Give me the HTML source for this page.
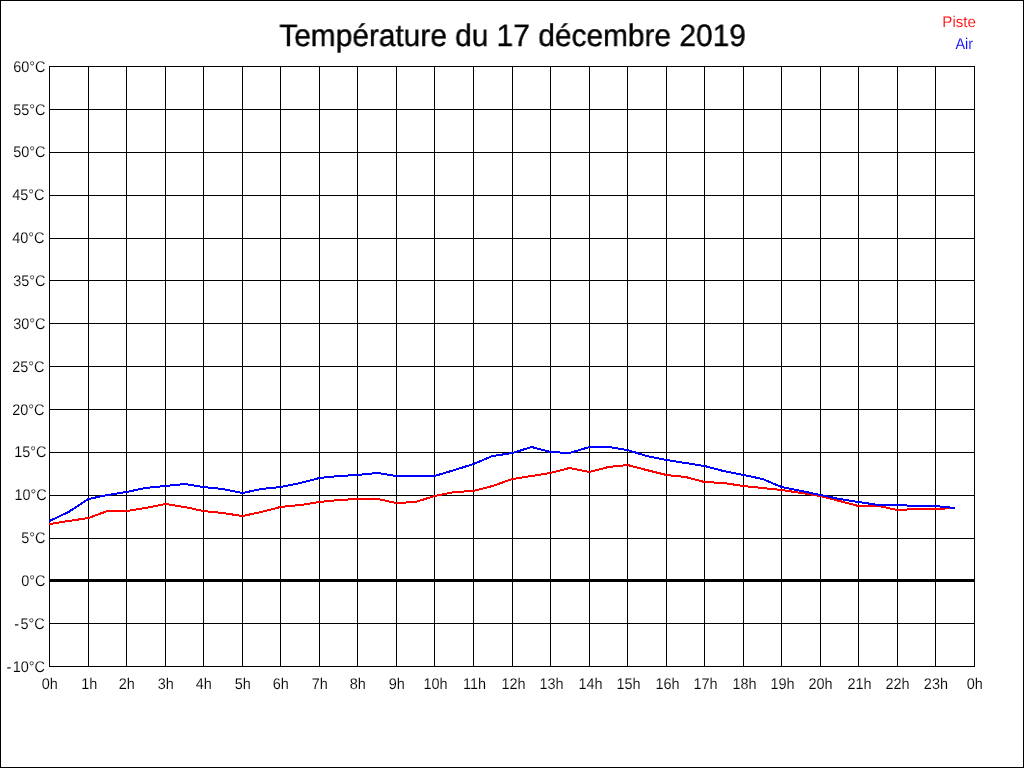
<!DOCTYPE html>
<html lang="fr">
<head>
<meta charset="utf-8">
<title>Température du 17 décembre 2019</title>
<style>
html,body{margin:0;padding:0;background:#fff;overflow:hidden}
svg{display:block;position:absolute;left:0;top:0;-webkit-font-smoothing:antialiased;will-change:transform}
text{font-family:"Liberation Sans",Arial,Helvetica,sans-serif;fill:#000;text-rendering:geometricPrecision}
</style>
</head>
<body>
<svg width="1024" height="768" viewBox="0 0 1024 768">
<g fill="#000" shape-rendering="crispEdges">
<rect x="0" y="0" width="1024" height="1"/><rect x="0" y="767" width="1024" height="1"/><rect x="0" y="0" width="1" height="768"/><rect x="1023" y="0" width="1" height="768"/>
<rect x="49" y="66" width="1" height="601"/>
<rect x="88" y="66" width="1" height="601"/>
<rect x="126" y="66" width="1" height="601"/>
<rect x="165" y="66" width="1" height="601"/>
<rect x="203" y="66" width="1" height="601"/>
<rect x="242" y="66" width="1" height="601"/>
<rect x="280" y="66" width="1" height="601"/>
<rect x="319" y="66" width="1" height="601"/>
<rect x="357" y="66" width="1" height="601"/>
<rect x="396" y="66" width="1" height="601"/>
<rect x="434" y="66" width="1" height="601"/>
<rect x="473" y="66" width="1" height="601"/>
<rect x="512" y="66" width="1" height="601"/>
<rect x="550" y="66" width="1" height="601"/>
<rect x="589" y="66" width="1" height="601"/>
<rect x="627" y="66" width="1" height="601"/>
<rect x="666" y="66" width="1" height="601"/>
<rect x="704" y="66" width="1" height="601"/>
<rect x="743" y="66" width="1" height="601"/>
<rect x="781" y="66" width="1" height="601"/>
<rect x="820" y="66" width="1" height="601"/>
<rect x="858" y="66" width="1" height="601"/>
<rect x="897" y="66" width="1" height="601"/>
<rect x="935" y="66" width="1" height="601"/>
<rect x="974" y="66" width="1" height="601"/>
<rect x="49" y="66" width="926" height="1"/>
<rect x="49" y="109" width="926" height="1"/>
<rect x="49" y="152" width="926" height="1"/>
<rect x="49" y="195" width="926" height="1"/>
<rect x="49" y="238" width="926" height="1"/>
<rect x="49" y="280" width="926" height="1"/>
<rect x="49" y="323" width="926" height="1"/>
<rect x="49" y="366" width="926" height="1"/>
<rect x="49" y="409" width="926" height="1"/>
<rect x="49" y="452" width="926" height="1"/>
<rect x="49" y="495" width="926" height="1"/>
<rect x="49" y="538" width="926" height="1"/>
<rect x="49" y="579" width="926" height="3"/>
<rect x="49" y="623" width="926" height="1"/>
<rect x="49" y="666" width="926" height="1"/>
</g>
<g fill="none" stroke-width="2" stroke-linejoin="miter" shape-rendering="crispEdges">
<polyline stroke="#ff0000" points="49,524 49.5,524 68.5,521 88.5,518 107.5,511 126.5,511 145.5,508 165.5,504 184.5,507 203.5,511 222.5,513 242.5,516 261.5,512 280.5,507 300.5,505 319.5,502 338.5,500 357.5,499 377.5,499 396.5,503 415.5,502 434.5,496 454.5,492 473.5,491 492.5,486 512.5,479 531.5,476 550.5,473 569.5,468 589.5,472 608.5,467 627.5,465 646.5,470 666.5,475 685.5,477 704.5,482 723.5,483 743.5,486 762.5,488 781.5,490 801.5,493 820.5,496 839.5,501 858.5,506 878.5,506 897.5,510 916.5,509 935.5,509 954.5,508 955,508"/>
<polyline stroke="#0000ff" points="49,521 49.5,521 68.5,512 88.5,499 107.5,495 126.5,492 145.5,488 165.5,486 184.5,484 203.5,487 222.5,489 242.5,493 261.5,489 280.5,487 300.5,483 319.5,478 338.5,476 357.5,475 377.5,473 396.5,476 415.5,476 434.5,476 454.5,470 473.5,464 492.5,456 512.5,453 531.5,447 550.5,452 569.5,453 589.5,447 608.5,447 627.5,450 646.5,456 666.5,460 685.5,463 704.5,466 723.5,471 743.5,475 762.5,479 781.5,487 801.5,491 820.5,495 839.5,499 858.5,502 878.5,505 897.5,505 916.5,506 935.5,506 954.5,508 955,508"/>
</g>
<g opacity="0.999" stroke="#fff" stroke-width="0.12">
<text stroke="#000" stroke-width="0.4" transform="translate(512.50,46.00) scale(0.9635,1)" font-size="31.0" text-anchor="middle">Température du 17 décembre 2019</text>
<text transform="translate(976.00,26.90) scale(0.9789,1)" font-size="15.5" text-anchor="end" style="fill:#ff0000">Piste</text>
<text transform="translate(973.10,48.90) scale(0.9323,1)" font-size="15.5" text-anchor="end" style="fill:#0000ff">Air</text>
<text transform="translate(45.56,71.85) scale(0.9323,1)" font-size="15.5" text-anchor="end">60°C</text>
<text transform="translate(45.56,114.85) scale(0.9323,1)" font-size="15.5" text-anchor="end">55°C</text>
<text transform="translate(45.56,156.85) scale(0.9323,1)" font-size="15.5" text-anchor="end">50°C</text>
<text transform="translate(44.56,199.85) scale(0.9323,1)" font-size="15.5" text-anchor="end">45°C</text>
<text transform="translate(44.56,242.85) scale(0.9323,1)" font-size="15.5" text-anchor="end">40°C</text>
<text transform="translate(45.56,285.85) scale(0.9323,1)" font-size="15.5" text-anchor="end">35°C</text>
<text transform="translate(45.56,328.85) scale(0.9323,1)" font-size="15.5" text-anchor="end">30°C</text>
<text transform="translate(44.56,371.85) scale(0.9323,1)" font-size="15.5" text-anchor="end">25°C</text>
<text transform="translate(44.56,414.85) scale(0.9323,1)" font-size="15.5" text-anchor="end">20°C</text>
<text transform="translate(46.56,456.85) scale(0.9323,1)" font-size="15.5" text-anchor="end">15°C</text>
<text transform="translate(46.81,499.85) scale(0.9323,1)" font-size="15.5" text-anchor="end">10°C</text>
<text transform="translate(45.56,542.85) scale(0.9323,1)" font-size="15.5" text-anchor="end">5°C</text>
<text transform="translate(45.56,585.85) scale(0.9323,1)" font-size="15.5" text-anchor="end">0°C</text>
<text transform="translate(44.81,628.85) scale(0.9323,1)" font-size="15.5" text-anchor="end">-<tspan dx="1.5">5°C</tspan></text>
<text transform="translate(44.96,671.85) scale(0.9323,1)" font-size="15.5" text-anchor="end">-<tspan dx="1.5">10°C</tspan></text>
<text transform="translate(49.80,688.85) scale(0.9323,1)" font-size="15.5" text-anchor="middle">0h</text>
<text transform="translate(89.30,688.85) scale(0.9323,1)" font-size="15.5" text-anchor="middle">1h</text>
<text transform="translate(126.80,688.85) scale(0.9323,1)" font-size="15.5" text-anchor="middle">2h</text>
<text transform="translate(165.80,688.85) scale(0.9323,1)" font-size="15.5" text-anchor="middle">3h</text>
<text transform="translate(203.80,688.85) scale(0.9323,1)" font-size="15.5" text-anchor="middle">4h</text>
<text transform="translate(242.80,688.85) scale(0.9323,1)" font-size="15.5" text-anchor="middle">5h</text>
<text transform="translate(280.80,688.85) scale(0.9323,1)" font-size="15.5" text-anchor="middle">6h</text>
<text transform="translate(319.80,688.85) scale(0.9323,1)" font-size="15.5" text-anchor="middle">7h</text>
<text transform="translate(357.80,688.85) scale(0.9323,1)" font-size="15.5" text-anchor="middle">8h</text>
<text transform="translate(396.80,688.85) scale(0.9323,1)" font-size="15.5" text-anchor="middle">9h</text>
<text transform="translate(435.50,688.85) scale(0.9323,1)" font-size="15.5" text-anchor="middle">10h</text>
<text transform="translate(474.50,688.85) scale(0.9323,1)" font-size="15.5" text-anchor="middle">11h</text>
<text transform="translate(513.50,688.85) scale(0.9323,1)" font-size="15.5" text-anchor="middle">12h</text>
<text transform="translate(551.50,688.85) scale(0.9323,1)" font-size="15.5" text-anchor="middle">13h</text>
<text transform="translate(590.50,688.85) scale(0.9323,1)" font-size="15.5" text-anchor="middle">14h</text>
<text transform="translate(628.50,688.85) scale(0.9323,1)" font-size="15.5" text-anchor="middle">15h</text>
<text transform="translate(667.50,688.85) scale(0.9323,1)" font-size="15.5" text-anchor="middle">16h</text>
<text transform="translate(705.50,688.85) scale(0.9323,1)" font-size="15.5" text-anchor="middle">17h</text>
<text transform="translate(744.50,688.85) scale(0.9323,1)" font-size="15.5" text-anchor="middle">18h</text>
<text transform="translate(782.50,688.85) scale(0.9323,1)" font-size="15.5" text-anchor="middle">19h</text>
<text transform="translate(820.50,688.85) scale(0.9323,1)" font-size="15.5" text-anchor="middle">20h</text>
<text transform="translate(859.50,688.85) scale(0.9323,1)" font-size="15.5" text-anchor="middle">21h</text>
<text transform="translate(897.50,688.85) scale(0.9323,1)" font-size="15.5" text-anchor="middle">22h</text>
<text transform="translate(935.90,688.85) scale(0.9323,1)" font-size="15.5" text-anchor="middle">23h</text>
<text transform="translate(974.80,688.85) scale(0.9323,1)" font-size="15.5" text-anchor="middle">0h</text>
</g>
</svg>
</body>
</html>
